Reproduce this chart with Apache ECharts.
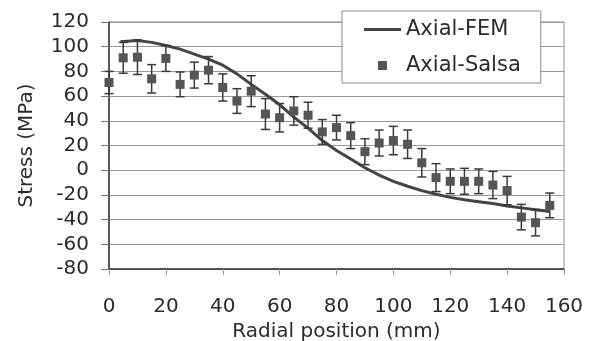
<!DOCTYPE html>
<html>
<head>
<meta charset="utf-8">
<script src="https://cdn.jsdelivr.net/npm/echarts@6/dist/echarts.min.js"></script>
<style>
  html, body { margin: 0; padding: 0; background: #fff; }
  #chart { width: 594px; height: 341px; }
</style>
</head>
<body>
<div id="chart"></div>
<script>
// FEM curve (mm, MPa)
const femX = [4, 10, 15, 20, 25, 30, 35, 40, 45, 50, 55, 60, 65, 70, 75, 80, 85, 90, 95, 100, 105, 110, 115, 120, 125, 130, 135, 140, 145, 150, 155];
const femY = [104, 105, 103.5, 101, 98, 94, 90, 85, 78, 69.5, 61.5, 53, 43, 34, 24, 16, 9, 2, -4, -9, -13, -16.5, -19.5, -22, -24, -25.5, -27, -29, -30.5, -32, -33.5];

// Salsa measurements with error half-widths
const salsaX = [0, 5, 10, 15, 20, 25, 30, 35, 40, 45, 50, 55, 60, 65, 70, 75, 80, 85, 90, 95, 100, 105, 110, 115, 120, 125, 130, 135, 140, 145, 150, 155];
const salsaY = [71, 91, 91.5, 74, 90.5, 69.5, 77, 81, 67, 56, 64, 45.5, 42.5, 48, 44.5, 31, 34.5, 28, 15, 22, 24, 21, 6, -6, -9, -9, -9, -12, -16.5, -38, -42.5, -28.5];
const salsaErr = [9, 12.5, 14, 11.5, 10.5, 10, 10.5, 11, 11, 10, 12.5, 12.5, 11.5, 11.5, 10.5, 10, 10, 10.5, 10.5, 10.5, 11.5, 11.5, 11.5, 11.3, 10, 10.5, 10, 11, 11.5, 10.3, 10.7, 10];

const font = 'DejaVu Sans, sans-serif';
const textColor = '#2b2b2b';

const femData = femX.map((x, i) => [x, femY[i]]);
const salsaData = salsaX.map((x, i) => [x, salsaY[i]]);
const errData = salsaX.map((x, i) => [x, salsaY[i] - salsaErr[i], salsaY[i] + salsaErr[i]]);

const myChart = echarts.init(document.getElementById('chart'));
myChart.setOption({
  animation: false,
  backgroundColor: '#fff',
  grid: {
    left: 109, top: 22, right: 30, bottom: 72,
    outerBoundsMode: 'none',
    show: true, borderColor: '#8a8a8a', borderWidth: 1
  },
  legend: {
    orient: 'vertical',
    left: 342, top: 11,
    padding: [8, 20, 7, 22],
    itemGap: 15,
    itemWidth: 37, itemHeight: 9,
    backgroundColor: '#fff',
    borderColor: '#888', borderWidth: 1,
    textStyle: { fontFamily: font, fontSize: 21, color: textColor },
    data: [
      { name: 'Axial-FEM', icon: 'path://M0,0 L37,0 L37,3 L0,3 Z', itemStyle: { color: '#444' } },
      { name: 'Axial-Salsa', icon: 'path://M0,0 L9,0 L9,9 L0,9 Z', itemStyle: { color: '#555' } }
    ]
  },
  xAxis: {
    type: 'value', min: 0, max: 160, interval: 20,
    name: 'Radial position (mm)', nameLocation: 'middle', nameGap: 50,
    nameTextStyle: { fontFamily: font, fontSize: 20, color: textColor },
    axisLine: { onZero: false, lineStyle: { color: '#333', width: 1.5 } },
    axisTick: { show: true, length: 6, lineStyle: { color: '#999' } },
    axisLabel: { margin: 28, fontFamily: font, fontSize: 20, color: textColor },
    splitLine: { show: false }
  },
  yAxis: {
    type: 'value', min: -80, max: 120, interval: 20,
    name: 'Stress (MPa)', nameLocation: 'middle', nameGap: 72, nameRotate: 90,
    nameTextStyle: { fontFamily: font, fontSize: 20, color: textColor },
    axisLine: { show: true, lineStyle: { color: '#333', width: 1.5 } },
    axisTick: { show: true, length: 8, lineStyle: { color: '#777' } },
    axisLabel: { margin: 20, fontFamily: font, fontSize: 20, color: textColor },
    splitLine: { show: true, lineStyle: { color: '#999', width: 1 } }
  },
  series: [
    {
      name: 'Axial-FEM', type: 'line', data: femData,
      showSymbol: false, symbol: 'none',
      lineStyle: { color: '#444', width: 3 },
      itemStyle: { color: '#444' },
      z: 3
    },
    {
      name: 'err', type: 'custom', data: errData,
      encode: { x: 0, y: [1, 2] },
      renderItem: function (params, api) {
        const x = api.value(0);
        const lo = api.coord([x, api.value(1)]);
        const hi = api.coord([x, api.value(2)]);
        const w = 4.5;
        const style = { stroke: '#3a3a3a', lineWidth: 1.5 };
        return {
          type: 'group',
          children: [
            { type: 'line', shape: { x1: lo[0], y1: lo[1], x2: hi[0], y2: hi[1] }, style: style },
            { type: 'line', shape: { x1: hi[0] - w, y1: hi[1], x2: hi[0] + w, y2: hi[1] }, style: style },
            { type: 'line', shape: { x1: lo[0] - w, y1: lo[1], x2: lo[0] + w, y2: lo[1] }, style: style }
          ]
        };
      },
      z: 4
    },
    {
      name: 'Axial-Salsa', type: 'scatter', data: salsaData,
      symbol: 'rect', symbolSize: 9,
      itemStyle: { color: '#555', opacity: 1 },
      z: 5
    }
  ]
});
</script>
</body>
</html>
